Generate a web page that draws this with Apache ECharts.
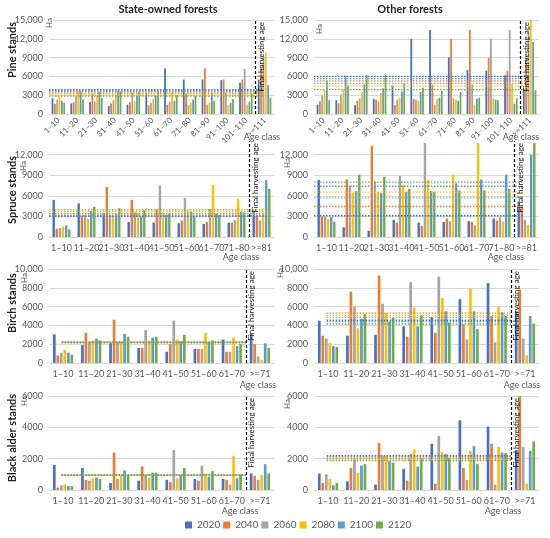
<!DOCTYPE html>
<html>
<head>
<meta charset="utf-8">
<script src="https://cdn.jsdelivr.net/npm/echarts@6/dist/echarts.min.js"></script>
<style>
  html, body { margin: 0; padding: 0; background: #fff; }
  #main { width: 550px; height: 538px; }
</style>
</head>
<body>
<div id="main"></div>
<script>
// series (years) and colours
var years = ['2020', '2040', '2060', '2080', '2100', '2120'];
var colors = ['#4472C4', '#ED7D31', '#A5A5A5', '#FFC000', '#5B9BD5', '#70AD47'];

// age classes
var pineAges = ['1–10', '11–20', '21–30', '31–40', '41–50', '51–60', '61–70', '71–80', '81–90', '91–100', '101–110', '>=111'];
var spruceAges = ['1–10', '11–20', '21–30', '31–40', '41–50', '51–60', '61–70', '71–80', '>=81'];
var birchAges = ['1–10', '11–20', '21–30', '31–40', '41–50', '51–60', '61–70', '>=71'];

// area (ha), one row per year: 2020, 2040, 2060, 2080, 2100, 2120
var pineState = [
    [2500, 1700, 1900, 1300, 1500, 3300, 7300, 5500, 5500, 5400, 5000, 5500],
    [1600, 1850, 3200, 1700, 1900, 1400, 1500, 3200, 7300, 5500, 5500, 7500],
    [2300, 2800, 2000, 2200, 3400, 1800, 2000, 1400, 1500, 3300, 7200, 9200],
    [2800, 3600, 2900, 2900, 2100, 2400, 3400, 1800, 1900, 1400, 1500, 9800],
    [2100, 3600, 3500, 3800, 2900, 2900, 2100, 2300, 3400, 1800, 1900, 4600],
    [1800, 2300, 2600, 3600, 3600, 3700, 3000, 2900, 2100, 2400, 3300, 2600]
];
var pineOther = [
    [1500, 2200, 1400, 2400, 4600, 12000, 13400, 9000, 7000, 6900, 6200, 4000],
    [2000, 1700, 2100, 2300, 1400, 2400, 4700, 12000, 13400, 9000, 6900, 8900],
    [2900, 3100, 2500, 2000, 2300, 2300, 1500, 2500, 4700, 12000, 13400, 13000],
    [3800, 3900, 3500, 3400, 2600, 2100, 2400, 2300, 1500, 2500, 4800, 15000],
    [5300, 6100, 4700, 4100, 3600, 3500, 2600, 2100, 2400, 2300, 1600, 11500],
    [2200, 4600, 6200, 6300, 4900, 4200, 3700, 3500, 2600, 2200, 2500, 3800]
];
var spruceState = [
    [5400, 4900, 3500, 2200, 2100, 2000, 1900, 2100, 3700],
    [1200, 3100, 7300, 5400, 4000, 2400, 2200, 2100, 3200],
    [1300, 3200, 3200, 3600, 7500, 5700, 4100, 2500, 2400],
    [1500, 2700, 3000, 3500, 3500, 3800, 7600, 5600, 3500],
    [1700, 3800, 3400, 3000, 3200, 3700, 3400, 3700, 8300],
    [1100, 4400, 4200, 3900, 3400, 3000, 3200, 3600, 7000]
];
var spruceOther = [
    [8300, 1400, 900, 2500, 2100, 2200, 2300, 2700, 5200],
    [3000, 8400, 13300, 2100, 1600, 2700, 2200, 2400, 4400],
    [3000, 7500, 8100, 8900, 13700, 2300, 1700, 2900, 2500],
    [2600, 6400, 6600, 7600, 8300, 9100, 13700, 2300, 1800],
    [2900, 6700, 6400, 6600, 6700, 7800, 8400, 9100, 12000],
    [2200, 9100, 8800, 7000, 6600, 6800, 6800, 7000, 13700]
];
var birchState = [
    [3050, 1900, 2100, 1600, 1200, 1500, 2500, 3100],
    [800, 3200, 4600, 1600, 2000, 1500, 1200, 2000],
    [1100, 2200, 2200, 3500, 4500, 1500, 1200, 700],
    [1400, 2400, 2300, 2400, 2500, 3200, 2700, 350],
    [1100, 2600, 3100, 2700, 2300, 2200, 1800, 2100],
    [900, 2400, 2800, 2800, 3000, 2400, 2000, 1600]
];
var birchOther = [
    [4500, 2900, 3000, 3900, 4900, 6800, 8500, 5500],
    [2900, 7600, 9300, 2800, 3200, 4100, 5000, 7800],
    [2600, 6000, 6300, 8600, 9200, 2500, 2200, 2600],
    [2100, 3700, 5300, 5900, 6900, 7900, 6000, 800],
    [1800, 4700, 4400, 3900, 5500, 5500, 5400, 5000],
    [1700, 5200, 4800, 5100, 4300, 3600, 5000, 4200]
];
var alderState = [
    [1600, 1400, 450, 600, 650, 700, 700, 1050],
    [150, 650, 2400, 1500, 500, 600, 650, 900],
    [300, 600, 700, 950, 2550, 1550, 350, 650],
    [350, 750, 900, 800, 750, 1050, 2150, 950],
    [250, 800, 1250, 1100, 950, 850, 750, 1650],
    [250, 700, 950, 1100, 1400, 1200, 1000, 1050]
];
var alderOther = [
    [1050, 550, 350, 1350, 2950, 4450, 4050, 2550],
    [450, 1400, 3000, 600, 400, 1400, 2950, 6000],
    [1000, 2000, 2150, 2300, 3450, 650, 350, 2750],
    [700, 1100, 2150, 2600, 2400, 2500, 2750, 400],
    [300, 1550, 1850, 1500, 2300, 2800, 2400, 2500],
    [450, 1650, 1750, 2050, 2050, 1650, 2350, 3100]
];

// mean levels (dotted lines), per year
var pineStateMean = [3900, 3350, 3600, 3050, 3750, 2850];
var pineOtherMean = [6000, 5300, 4900, 4450, 5650, 3900];
var spruceStateMean = [3000, 3400, 3200, 3700, 3100, 3950];
var spruceOtherMean = [3100, 4450, 5700, 6550, 7400, 8000];
var birchStateMean = [2200, 2250, 2150, 2250, 2200, 2180];
var birchOtherMean = [4550, 5300, 4850, 5050, 4400, 4150];
var alderStateMean = [950, 960, 940, 950, 950, 940];
var alderOtherMean = [2200, 2100, 2000, 1950, 2150, 1880];

// y-axis ranges
var pineMax = 15000, pineStep = 3000;
var spruceMax = 14000, spruceStep = 3000;
var birchMax = 10000, birchStep = 2000;
var alderMax = 6000, alderStep = 2000;

var panels = [
    {cats: pineAges, data: pineState, mean: pineStateMean, max: pineMax, step: pineStep, left: 49, top: 20, h: 94, span: [0, 11.4], rot: 45},
    {cats: pineAges, data: pineOther, mean: pineOtherMean, max: pineMax, step: pineStep, left: 314, top: 20, h: 94, span: [0, 11.4], rot: 45},
    {cats: spruceAges, data: spruceState, mean: spruceStateMean, max: spruceMax, step: spruceStep, left: 49, top: 141, h: 96, span: [0, 8.7], rot: 0},
    {cats: spruceAges, data: spruceOther, mean: spruceOtherMean, max: spruceMax, step: spruceStep, left: 314, top: 141, h: 96, span: [0, 8.4], rot: 0},
    {cats: birchAges, data: birchState, mean: birchStateMean, max: birchMax, step: birchStep, left: 49, top: 269, h: 94, span: [0.45, 7], rot: 0},
    {cats: birchAges, data: birchOther, mean: birchOtherMean, max: birchMax, step: birchStep, left: 314, top: 269, h: 94, span: [0.45, 7], rot: 0},
    {cats: birchAges, data: alderState, mean: alderStateMean, max: alderMax, step: alderStep, left: 49, top: 396, h: 94, span: [0.45, 7], rot: 0},
    {cats: birchAges, data: alderOther, mean: alderOtherMean, max: alderMax, step: alderStep, left: 314, top: 396, h: 94, span: [0.45, 7], rot: 0}
];

var FONT = 'Lato';
var TXT = '#595959';

function fmt(v) {
    if (v < 10000) return String(v);
    return String(v).replace(/\B(?=(\d{3})+(?!\d))/g, ',');
}

var grids = [], xAxes = [], yAxes = [], series = [];

panels.forEach(function (p, i) {
    var n = p.cats.length;
    grids.push({left: p.left, top: p.top, width: 225, height: p.h});

    // category axis for the bars
    xAxes.push({
        type: 'category', gridIndex: i, data: p.cats,
        axisLine: {lineStyle: {color: '#D9D9D9'}},
        axisTick: {show: false},
        axisLabel: {color: TXT, fontFamily: FONT, fontSize: p.rot ? 8 : 9, rotate: p.rot, margin: p.rot ? 5 : 7, interval: 0}
    });
    // hidden value axis in band units, for the reference lines
    xAxes.push({type: 'value', gridIndex: i, min: 0, max: n, show: false});

    // grid line colours: hide the one at max when max is not on a tick
    var ticks = Math.floor(p.max / p.step) + 1;
    var gl = [];
    for (var t = 0; t < ticks; t++) gl.push('#D9D9D9');
    if (p.max % p.step !== 0) gl.push('rgba(0,0,0,0)');

    yAxes.push({
        type: 'value', gridIndex: i, min: 0, max: p.max, interval: p.step,
        axisLine: {show: false}, axisTick: {show: false},
        splitLine: {lineStyle: {color: gl, width: 1}},
        axisLabel: {
            color: TXT, fontFamily: FONT, fontSize: 9, margin: 6,
            formatter: function (v) { return (p.max % p.step && v > p.max - p.max % p.step) ? '' : fmt(v); }
        }
    });

    years.forEach(function (y, k) {
        series.push({
            name: y, type: 'bar', xAxisIndex: 2 * i, yAxisIndex: i,
            data: p.data[k], barGap: '30%', barCategoryGap: '28%',
            itemStyle: {color: colors[k]}, animation: false, silent: true
        });
    });

    years.forEach(function (y, k) {
        series.push({
            type: 'line', xAxisIndex: 2 * i + 1, yAxisIndex: i,
            data: [[p.span[0], p.mean[k]], [p.span[1], p.mean[k]]],
            symbol: 'none', silent: true, animation: false, z: 3,
            lineStyle: {color: colors[k], type: [1.5, 1.5], width: 1.3}
        });
    });

    // final harvesting age
    series.push({
        type: 'line', xAxisIndex: 2 * i + 1, yAxisIndex: i, data: [],
        silent: true, animation: false,
        markLine: {
            symbol: 'none', silent: true, animation: false,
            data: [{xAxis: n - 1}],
            lineStyle: {color: '#000', type: [3, 2], width: 1.2},
            label: {show: true, formatter: 'Final harvesting age', position: 'insideEndBottom',
                color: '#222', fontFamily: FONT, fontSize: 8, distance: 2}
        }
    });
});

// free text: column titles, row titles, units, axis names
function txt(x, y, s, opt) {
    return {type: 'text', x: x, y: y, rotation: opt.rot || 0, silent: true,
        style: {text: s, fill: opt.fill || TXT, font: (opt.bold ? 'bold ' : '') + opt.size + 'px ' + FONT,
            textAlign: 'center', textVerticalAlign: 'middle'}};
}
var graphics = [
    txt(168, 9, 'State-owned forests', {size: 11, bold: true, fill: '#222'}),
    txt(410, 9, 'Other forests', {size: 11, bold: true, fill: '#222'}),
    txt(12, 50, 'Pine stands', {size: 11, bold: true, fill: '#222', rot: Math.PI / 2}),
    txt(12, 190, 'Spruce stands', {size: 11, bold: true, fill: '#222', rot: Math.PI / 2}),
    txt(12, 303, 'Birch stands', {size: 11, bold: true, fill: '#222', rot: Math.PI / 2}),
    txt(12, 438, 'Black alder stands', {size: 11, bold: true, fill: '#222', rot: Math.PI / 2}),
    txt(49, 23, 'Ha', {size: 8, rot: Math.PI / 2}),
    txt(319, 29, 'Ha', {size: 8, rot: Math.PI / 2}),
    txt(23, 166, 'Ha', {size: 8, rot: Math.PI / 2}),
    txt(287, 163, 'Ha', {size: 8, rot: Math.PI / 2}),
    txt(24, 278, 'Ha', {size: 8, rot: Math.PI / 2}),
    txt(280, 273, 'Ha', {size: 8, rot: Math.PI / 2}),
    txt(24, 401, 'Ha', {size: 8, rot: Math.PI / 2}),
    txt(287, 404, 'Ha', {size: 8, rot: Math.PI / 2}),
    txt(262, 137, 'Age class', {size: 9}),
    txt(521, 137, 'Age class', {size: 9}),
    txt(241, 257, 'Age class', {size: 9}),
    txt(506, 257, 'Age class', {size: 9}),
    txt(258, 385, 'Age class', {size: 9}),
    txt(522, 385, 'Age class', {size: 9}),
    txt(240, 511, 'Age class', {size: 9}),
    txt(503, 511, 'Age class', {size: 9})
];

var chart = echarts.init(document.getElementById('main'));
chart.setOption({
    backgroundColor: '#fff',
    animation: false,
    legend: {
        data: years, left: 185, top: 520, padding: 0, icon: 'rect', itemWidth: 7, itemHeight: 7, itemGap: 3,
        textStyle: {color: TXT, fontFamily: FONT, fontSize: 10}
    },
    grid: grids,
    xAxis: xAxes,
    yAxis: yAxes,
    series: series,
    graphic: graphics
});
</script>
</body>
</html>
